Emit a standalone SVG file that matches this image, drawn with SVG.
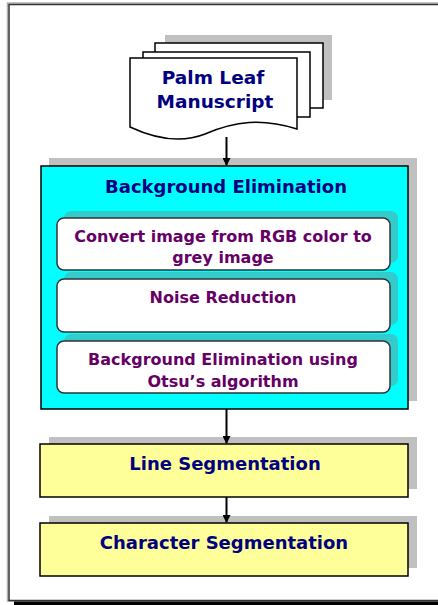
<svg xmlns="http://www.w3.org/2000/svg" width="438" height="605" viewBox="0 0 438 605">
<style>
.t{font-family:"DejaVu Sans","Verdana",sans-serif;font-weight:bold;text-anchor:middle}
.navy{fill:#000080;font-size:18px}
.pur{fill:#660066;font-size:16px}
.box{stroke:#000;stroke-width:1.5}
.shadow{fill:#c0c0c0}
.inner{fill:#fff;stroke:#333;stroke-width:1.5}
.ishadow{fill:#33cccc}
.conn{stroke:#000;stroke-width:2;fill:none;marker-end:url(#ah)}
</style>
<defs>
<marker id="ah" markerWidth="8" markerHeight="8" refX="7" refY="4" orient="auto" markerUnits="userSpaceOnUse">
<path d="M0,0 L8,4 L0,8 Z" fill="#000"/>
</marker>
</defs>
<rect x="0" y="0" width="438" height="605" fill="#fff"/>
<g id="frame">
<rect x="7.5" y="3" width="440" height="598" fill="none" stroke="#b0b0b0" stroke-width="1.5"/>
<rect x="9" y="4.5" width="440" height="596" fill="none" stroke="#333" stroke-width="1.5"/>
<rect x="14" y="601.5" width="430" height="4" fill="#000"/>
</g>
<g id="manuscript">
<rect x="165" y="35" width="167" height="65" class="shadow"/>
<rect x="155" y="43" width="168" height="65" fill="#fff" stroke="#000" stroke-width="1.5"/>
<rect x="143" y="52" width="167" height="65" fill="#fff" stroke="#000" stroke-width="1.5"/>
<path d="M130,58 H297 V129 C262,118 235,121 205,134 C185,142 160,141 130,127 Z" fill="#fff" stroke="#000" stroke-width="1.5"/>
<text class="t navy" x="213" y="84" style="font-size:18.5px">Palm Leaf</text>
<text class="t navy" x="215" y="108" style="font-size:18.5px">Manuscript</text>
</g>
<g id="bg-elim">
<rect x="49" y="158" width="368" height="243" class="shadow"/>
<rect x="41" y="166" width="367" height="243" fill="#00ffff" class="box"/>
<text class="t navy" x="226" y="193">Background Elimination</text>
</g>
<g id="convert">
<rect x="64" y="211" width="334" height="52" rx="7" class="ishadow"/>
<rect x="57" y="218" width="333" height="52" rx="7" class="inner"/>
<text class="t pur" x="223" y="242">Convert image from RGB color to</text>
<text class="t pur" x="223" y="263">grey image</text>
</g>
<g id="noise">
<rect x="64" y="272" width="334" height="53" rx="7" class="ishadow"/>
<rect x="57" y="279" width="333" height="53" rx="7" class="inner"/>
<text class="t pur" x="223" y="303">Noise Reduction</text>
</g>
<g id="otsu">
<rect x="64" y="334" width="334" height="52" rx="7" class="ishadow"/>
<rect x="57" y="341" width="333" height="52" rx="7" class="inner"/>
<text class="t pur" x="223" y="365">Background Elimination using</text>
<text class="t pur" x="223" y="387">Otsu’s algorithm</text>
</g>
<g id="line-seg">
<rect x="49" y="437" width="368" height="52" class="shadow"/>
<rect x="40" y="444" width="368" height="53" fill="#ffff99" class="box"/>
<text class="t navy" x="225" y="470">Line Segmentation</text>
</g>
<g id="char-seg">
<rect x="49" y="516" width="368" height="52" class="shadow"/>
<rect x="40" y="523" width="368" height="53" fill="#ffff99" class="box"/>
<text class="t navy" x="224" y="549">Character Segmentation</text>
</g>
<g id="connectors">
<line x1="226.5" y1="137" x2="226.5" y2="165" class="conn"/>
<line x1="226.5" y1="409" x2="226.5" y2="443" class="conn"/>
<line x1="226.5" y1="497" x2="226.5" y2="522" class="conn"/>
</g>
</svg>
